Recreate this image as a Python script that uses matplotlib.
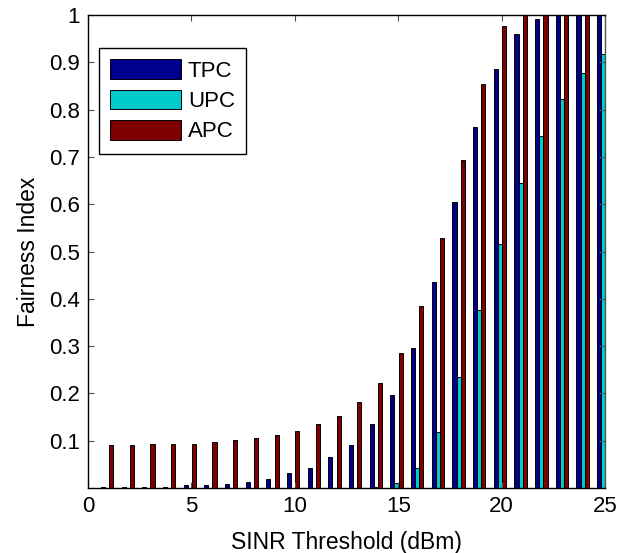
import matplotlib
matplotlib.use("Agg")
import matplotlib.pyplot as plt
import numpy as np

plt.rcParams['font.family'] = ['Liberation Sans', 'DejaVu Sans']

thresholds = np.arange(1, 26)
tpc = [0.0015, 0.0015, 0.002, 0.002, 0.006, 0.006, 0.009, 0.013, 0.020, 0.032,
       0.043, 0.065, 0.091, 0.135, 0.197, 0.297, 0.436, 0.605, 0.764, 0.885,
       0.959, 0.992, 1.0, 1.0, 1.0]
upc = [0.0, 0.0, 0.0, 0.0, 0.0, 0.0, 0.0, 0.0, 0.0, 0.0,
       0.0, 0.0, 0.0, 0.003, 0.010, 0.043, 0.119, 0.234, 0.376, 0.516,
       0.645, 0.744, 0.822, 0.877, 0.917]
apc = [0.091, 0.091, 0.094, 0.094, 0.094, 0.098, 0.101, 0.105, 0.113, 0.120,
       0.135, 0.153, 0.181, 0.221, 0.285, 0.385, 0.528, 0.693, 0.855, 0.977,
       1.0, 1.0, 1.0, 1.0, 1.0]
series_names = ['TPC', 'UPC', 'APC']
colors = ['#00008F', '#00CCCC', '#800000']
xticks = [0, 5, 10, 15, 20, 25]
yticks = [0.1, 0.2, 0.3, 0.4, 0.5, 0.6, 0.7, 0.8, 0.9, 1.0]

fig = plt.figure(figsize=(6.3, 5.53), dpi=100)
ax = fig.add_axes([0.1397, 0.1175, 0.8206, 0.8554])

width = 0.2
offsets = [-0.28, -0.08, 0.12]
for vals, name, col, off in zip([tpc, upc, apc], series_names, colors, offsets):
    ax.bar(thresholds + off, vals, width=width, color=col, edgecolor='black',
           linewidth=0.7, label=name)

ax.set_xlim(0, 25)
ax.set_ylim(0, 1)
ax.set_xticks(xticks)
ax.set_yticks(yticks)
ax.set_yticklabels(['0.1', '0.2', '0.3', '0.4', '0.5', '0.6', '0.7', '0.8', '0.9', '1'])
ax.tick_params(direction='in', top=True, right=True, labelsize=16, length=4,
               width=0.8, color='#555555', pad=6)
for sp in ax.spines.values():
    sp.set_linewidth(1.0)
    sp.set_color('black')
ax.spines['right'].set_color('#555555')

ax.set_xlabel('SINR Threshold (dBm)', fontsize=16.5, labelpad=10)
ax.set_ylabel('Fairness Index', fontsize=16.5, labelpad=6)

leg = ax.legend(loc='upper left', bbox_to_anchor=(0.021, 0.930), borderaxespad=0,
                fontsize=16, handlelength=3.2, handleheight=1.0, labelspacing=0.35,
                handletextpad=0.3, borderpad=0.5, fancybox=False, framealpha=1,
                edgecolor='black')
leg.get_frame().set_linewidth(1.0)

fig.savefig('out.png', dpi=100)
